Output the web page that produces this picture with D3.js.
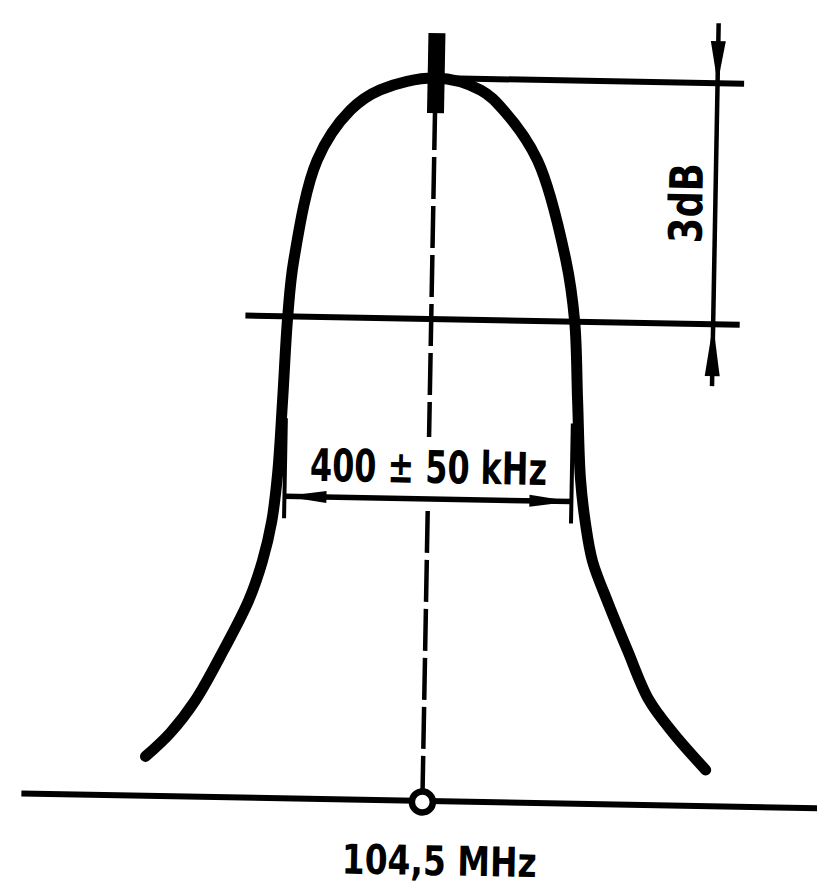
<!DOCTYPE html>
<html>
<head>
<meta charset="utf-8">
<script src="https://cdn.jsdelivr.net/npm/d3@7"></script>
<style>
  html, body { margin: 0; padding: 0; background: #fff; }
  svg { display: block; }
  text { font-family: "Liberation Sans Narrow", "DejaVu Sans Condensed", "Liberation Sans", sans-serif; font-weight: bold; fill: #000; }
</style>
</head>
<body>
<div id="chart"></div>
<script>
// Pass-band response of the IF filter, offset from the centre frequency (kHz) vs. level (dB)
const freqKHz = [-387, -353, -319, -281, -247, -229, -217, -210, -205, -200, -193, -163, -118, -77, 0,
                 63, 95, 144, 186, 200, 206, 212, 220, 231, 254, 282, 313, 348, 394];
const levelDB = [-8.51, -8.21, -7.80, -7.17, -6.54, -6.05, -5.55, -4.95, -4.04, -3.0, -2.30, -1.05, -0.42, -0.16, 0,
                 -0.14, -0.38, -1.0, -2.23, -3.0, -3.97, -4.95, -5.5, -5.98, -6.5, -7.08, -7.69, -8.10, -8.55];

// Reference levels (dB) and the bandwidth marked between the -3 dB points (kHz)
const refLevels = [0, -3];
const baseLevel = -9;
const bandEdges = [-200, 200];

// Labels
const centreLabel = "104,5 MHz";
const bandLabel = "400 \u00b1 50 kHz";
const levelLabel = "3dB";

const W = 817, H = 888;
const svg = d3.select("#chart").append("svg")
  .attr("width", W).attr("height", H);

const x = d3.scaleLinear().domain([-200, 200]).range([285.5, 572.5]);
const y = d3.scaleLinear().domain([0, -3]).range([78, 319]);

// The whole drawing sits slightly turned
const g = svg.append("g").attr("transform", "rotate(1.05, 430, 440)");

const ink = "#000";
const bandY = y(-5.24);

// Base line with the centre-frequency marker
g.append("line")
  .attr("x1", x(-559)).attr("x2", x(620))
  .attr("y1", y(baseLevel)).attr("y2", y(baseLevel))
  .attr("stroke", ink).attr("stroke-width", 6);

// Centre line (dashed), interrupted behind the bandwidth label, with the heavy tick at the peak
[[y(0) + 30, bandY - 62], [bandY + 12, y(baseLevel) - 12]].forEach(([y1, y2]) => {
  g.append("line")
    .attr("x1", x(0)).attr("x2", x(0))
    .attr("y1", y1).attr("y2", y2)
    .attr("stroke", ink).attr("stroke-width", 4.5)
    .attr("stroke-dasharray", "42,7");
});
g.append("rect")
  .attr("x", x(0) - 8).attr("width", 17)
  .attr("y", y(0) - 45).attr("height", 80)
  .attr("fill", ink);

g.append("circle")
  .attr("cx", x(0)).attr("cy", y(baseLevel) + 1)
  .attr("r", 10.5)
  .attr("fill", "#fff").attr("stroke", ink).attr("stroke-width", 6.5);

// Horizontal reference lines at 0 dB and -3 dB
g.append("line")
  .attr("x1", x(0)).attr("x2", x(430))
  .attr("y1", y(refLevels[0])).attr("y2", y(refLevels[0]))
  .attr("stroke", ink).attr("stroke-width", 6);
g.append("line")
  .attr("x1", x(-259)).attr("x2", x(430))
  .attr("y1", y(refLevels[1])).attr("y2", y(refLevels[1]))
  .attr("stroke", ink).attr("stroke-width", 6);

// Vertical dimension for the 3 dB step
const dimX = x(393);
g.append("line")
  .attr("x1", dimX).attr("x2", dimX)
  .attr("y1", y(0) - 60).attr("y2", y(-3) + 62)
  .attr("stroke", ink).attr("stroke-width", 4.5);
// arrowheads pointing at the reference lines
const arrowDown = (tx, ty, len, w) => `M${tx},${ty} L${tx - w / 2},${ty - len} L${tx + w / 2},${ty - len} Z`;
const arrowUp = (tx, ty, len, w) => `M${tx},${ty} L${tx - w / 2},${ty + len} L${tx + w / 2},${ty + len} Z`;
const arrowLeft = (tx, ty, len, w) => `M${tx},${ty} L${tx + len},${ty - w / 2} L${tx + len},${ty + w / 2} Z`;
const arrowRight = (tx, ty, len, w) => `M${tx},${ty} L${tx - len},${ty - w / 2} L${tx - len},${ty + w / 2} Z`;
g.append("path").attr("d", arrowDown(dimX, y(0), 42, 15)).attr("fill", ink);
g.append("path").attr("d", arrowUp(dimX, y(-3), 52, 15)).attr("fill", ink);

g.append("text")
  .attr("transform", `translate(${dimX - 13},${y(-1.5)}) rotate(-90)`)
  .attr("text-anchor", "middle")
  .attr("font-size", 46)
  .attr("textLength", 80).attr("lengthAdjust", "spacingAndGlyphs")
  .text(levelLabel);

// Response curve
const pts = freqKHz.map((f, i) => [f, levelDB[i]]);
const line = d3.line()
  .x(d => x(d[0])).y(d => y(d[1]))
  .curve(d3.curveCatmullRom.alpha(0.5));
g.append("path")
  .datum(pts)
  .attr("d", line)
  .attr("fill", "none")
  .attr("stroke", ink).attr("stroke-width", 11)
  .attr("stroke-linecap", "round").attr("stroke-linejoin", "round");

// Bandwidth dimension between the -3 dB points
bandEdges.forEach(f => {
  g.append("line")
    .attr("x1", x(f)).attr("x2", x(f))
    .attr("y1", bandY - 78).attr("y2", bandY + 22)
    .attr("stroke", ink).attr("stroke-width", 4);
});
g.append("line")
  .attr("x1", x(bandEdges[0])).attr("x2", x(bandEdges[1]))
  .attr("y1", bandY).attr("y2", bandY)
  .attr("stroke", ink).attr("stroke-width", 5.5);
g.append("path").attr("d", arrowLeft(x(bandEdges[0]), bandY, 42, 12)).attr("fill", ink);
g.append("path").attr("d", arrowRight(x(bandEdges[1]), bandY, 42, 12)).attr("fill", ink);

g.append("text")
  .attr("x", x(0)).attr("y", bandY - 16)
  .attr("text-anchor", "middle")
  .attr("font-size", 45)
  .attr("textLength", 237).attr("lengthAdjust", "spacingAndGlyphs")
  .text(bandLabel);

// Centre frequency
g.append("text")
  .attr("x", x(0) + 18).attr("y", y(baseLevel) + 74)
  .attr("text-anchor", "middle")
  .attr("font-size", 41)
  .attr("textLength", 195).attr("lengthAdjust", "spacingAndGlyphs")
  .text(centreLabel);
</script>
</body>
</html>
